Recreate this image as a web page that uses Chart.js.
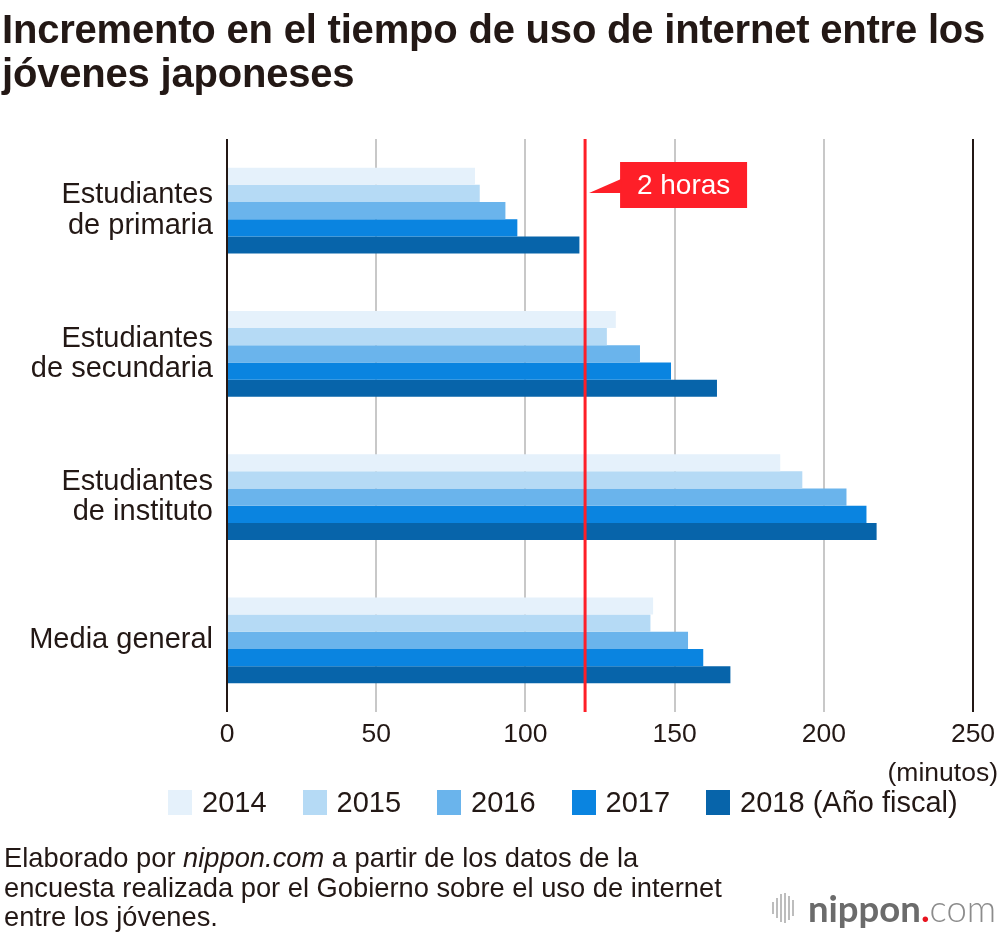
<!DOCTYPE html>
<html>
<head>
<meta charset="utf-8">
<script src="https://cdn.jsdelivr.net/npm/chart.js@4"></script>
<style>
  html,body{margin:0;padding:0;background:#fff;overflow:hidden;}
  body{width:1000px;height:932px;position:relative;font-family:"Liberation Sans",Arial,Helvetica,sans-serif;color:#231815;}
  #c{position:absolute;left:0;top:0;}
  #title{position:absolute;left:2px;top:7px;font-weight:bold;font-size:40px;line-height:44px;white-space:nowrap;letter-spacing:-0.2px;}
  #unit{position:absolute;right:2px;top:756px;font-size:26.5px;line-height:32px;}
  #legend{position:absolute;left:168px;top:786px;display:flex;align-items:center;white-space:nowrap;}
  .li{display:flex;align-items:center;margin-right:36px;font-size:29px;line-height:32px;}
  .sw{width:24px;height:25px;margin-right:10px;}
  #note{position:absolute;left:4px;top:843px;font-size:27.3px;line-height:29.5px;white-space:nowrap;}
  #logo{position:absolute;left:772px;top:888px;height:40px;display:flex;align-items:center;white-space:nowrap;}
  #logo .ic{display:flex;align-items:center;height:30px;margin-right:12px;}
  #logo .ic span{display:block;width:2px;background:#bdbdbd;margin-right:2px;}
  #logo .n{font-family:Lato,"Open Sans",sans-serif;font-weight:bold;font-size:36.5px;color:#6b6b6b;}
  #logo .d{font-family:Lato,sans-serif;font-weight:bold;font-size:36.5px;color:#e8141f;}
  #logo .cm{font-family:Lato,"Open Sans",sans-serif;font-weight:300;font-size:36.5px;color:#8c8c8c;}
</style>
</head>
<body>
<canvas id="c" width="1000" height="932"></canvas>
<div id="title">Incremento en el tiempo de uso de internet entre los<br>jóvenes japoneses</div>
<div id="unit">(minutos)</div>
<div id="legend"></div>
<div id="note">Elaborado por <i>nippon.com</i> a partir de los datos de la<br>encuesta realizada por el Gobierno sobre el uso de internet<br>entre los jóvenes.</div>
<div id="logo"><div class="ic"><span style="height:12px"></span><span style="height:20px"></span><span style="height:28px"></span><span style="height:30px"></span><span style="height:24px"></span><span style="height:16px"></span></div><span class="n">nippon</span><span class="d">.</span><span class="cm">com</span></div>
<script>
// ---- data ----
const categories = [
  ["Estudiantes", "de primaria"],
  ["Estudiantes", "de secundaria"],
  ["Estudiantes", "de instituto"],
  ["Media general"]
];
const seriesLabels = ["2014", "2015", "2016", "2017", "2018 (Año fiscal)"];
const v2014 = [83.1, 130.3, 185.4, 142.8];
const v2015 = [84.7, 127.3, 192.8, 141.9];
const v2016 = [93.3, 138.4, 207.6, 154.5];
const v2017 = [97.3, 148.8, 214.3, 159.6];
const v2018 = [118.1, 164.2, 217.7, 168.7];
const xTicks = [0, 50, 100, 150, 200, 250];
const refValue = 120;
const refLabel = "2 horas";

const colors = ["#e5f1fb", "#b5daf5", "#6ab4ec", "#0a84e0", "#0764aa"];
const seriesValues = [v2014, v2015, v2016, v2017, v2018];
const TEXT = "#231815";
const RED = "#fe1f28";
const FONT = "'Liberation Sans', Arial, sans-serif";

// legend (HTML, built from arrays)
const lg = document.getElementById("legend");
seriesLabels.forEach((l, i) => {
  const d = document.createElement("div"); d.className = "li";
  const s = document.createElement("div"); s.className = "sw"; s.style.background = colors[i];
  const t = document.createElement("span"); t.textContent = l;
  d.appendChild(s); d.appendChild(t); lg.appendChild(d);
});

const refLine = {
  id: "refLine",
  afterDatasetsDraw(chart) {
    const ctx = chart.ctx, xs = chart.scales.x, a = chart.chartArea;
    const x = xs.getPixelForValue(refValue);
    ctx.save();
    ctx.strokeStyle = RED; ctx.lineWidth = 3;
    ctx.beginPath(); ctx.moveTo(x, a.top); ctx.lineTo(x, a.bottom); ctx.stroke();
    // callout
    const bx = x + 35, by = a.top + 23, bw = 127, bh = 46;
    ctx.fillStyle = RED;
    ctx.fillRect(bx, by, bw, bh);
    ctx.beginPath();
    ctx.moveTo(bx + 1, by + 17); ctx.lineTo(x + 4, by + 31); ctx.lineTo(bx + 1, by + 31); ctx.closePath(); ctx.fill();
    ctx.fillStyle = "#fff";
    ctx.font = "28px " + FONT;
    ctx.textAlign = "center"; ctx.textBaseline = "middle";
    ctx.fillText(refLabel, bx + bw / 2, by + bh / 2 + 1);
    ctx.restore();
  }
};

new Chart(document.getElementById("c"), {
  type: "bar",
  data: {
    labels: categories,
    datasets: seriesLabels.map((l, i) => ({
      label: l, data: seriesValues[i], backgroundColor: colors[i], borderWidth: 0,
      categoryPercentage: 0.6, barPercentage: 1.0
    }))
  },
  options: {
    indexAxis: "y",
    responsive: false,
    animation: false,
    devicePixelRatio: 1,
    layout: { padding: { top: 139, right: 27, left: 0, bottom: 0 } },
    plugins: { legend: { display: false }, tooltip: { enabled: false } },
    scales: {
      x: {
        min: 0, max: 250,
        afterBuildTicks(s) { s.ticks = xTicks.map(v => ({ value: v })); },
        afterFit(s) { s.height = 932 - 139 - 573; s.paddingLeft = 0; s.paddingRight = 0; },
        border: { display: false },
        grid: {
          drawTicks: false,
          lineWidth: 2,
          color: c => (c.tick && (c.tick.value === 0 || c.tick.value === 250)) ? TEXT : "#c8c8c8"
        },
        ticks: { color: TEXT, padding: 7, font: { size: 26.5, family: FONT }, maxRotation: 0 }
      },
      y: {
        afterFit(s) { s.width = 227; },
        border: { display: false },
        grid: { display: false, drawTicks: false },
        ticks: { color: TEXT, padding: 14, font: { size: 29, family: FONT, lineHeight: 1.05 } }
      }
    }
  },
  plugins: [refLine]
});
</script>
</body>
</html>
